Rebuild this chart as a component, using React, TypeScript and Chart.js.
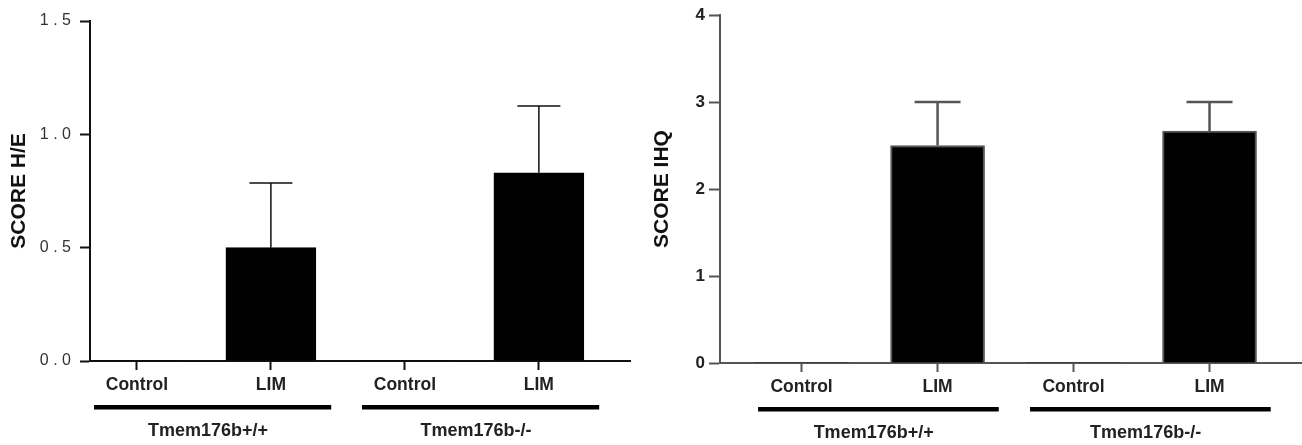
import React, { useEffect, useRef } from "react";
import { Chart, registerables } from "chart.js";

Chart.register(...registerables);

// ---- data ----
const categories = ["Control", "LIM", "Control", "LIM"];
const groupLabels = ["Tmem176b+/+", "Tmem176b-/-"];
const groupMembers = [
  [0, 1],
  [2, 3],
];
const heValues = [0, 0.5, 0, 0.83];
const heErrors = [0, 0.285, 0, 0.295];
const ihqValues = [0, 2.5, 0, 2.667];
const ihqErrors = [0, 0.5, 0, 0.333];
const heTickLabels = ["0.0", "0.5", "1.0", "1.5"];
const ihqTickLabels = ["0", "1", "2", "3", "4"];

const FONT = "'Liberation Sans', Arial, sans-serif";

type PanelCfg = {
  title: string;
  values: number[];
  errors: number[];
  tickLabels: string[];
  spaced: boolean;
  yMax: number;
  yStep: number;
  width: number;
  xMin: number;
  xMax: number;
  padTop: number;
  padRight: number;
  yWidth: number;
  xHeight: number;
  titlePad: number;
  yTickLen: number;
  yTickPad: number;
  yTickFont: any;
  yTickColor: string;
  axisColor: string;
  barWidth: number;
  barBorder: string;
  barBorderWidth: number;
  errColor: string;
  errWidth: number;
  cap: number;
};

function makeAnnot(cfg: PanelCfg) {
  return {
    id: "annot",
    afterDatasetsDraw(chart: any) {
      const ctx = chart.ctx;
      const xs = chart.scales.x;
      const ys = chart.scales.y;
      cfg.values.forEach((v, i) => {
        const e = cfg.errors[i];
        if (!e) return;
        const x = xs.getPixelForValue(i);
        const y0 = ys.getPixelForValue(v);
        const y1 = ys.getPixelForValue(v + e);
        ctx.save();
        ctx.strokeStyle = cfg.errColor;
        ctx.lineWidth = cfg.errWidth;
        ctx.beginPath();
        ctx.moveTo(x, y0);
        ctx.lineTo(x, y1);
        ctx.moveTo(x - cfg.cap / 2, y1);
        ctx.lineTo(x + cfg.cap / 2, y1);
        ctx.stroke();
        ctx.restore();
      });
    },
    afterDraw(chart: any) {
      const ctx = chart.ctx;
      const xs = chart.scales.x;
      const bottom = chart.chartArea.bottom;
      groupMembers.forEach((m, gi) => {
        const a = xs.getPixelForValue(m[0] - 0.32);
        const b = xs.getPixelForValue(m[m.length - 1] + 0.45);
        ctx.save();
        ctx.fillStyle = "#000";
        ctx.fillRect(a, bottom + 44, b - a, 4.5);
        ctx.font = `bold 18px ${FONT}`;
        ctx.fillStyle = "#222";
        ctx.textAlign = "center";
        ctx.textBaseline = "middle";
        const c = xs.getPixelForValue((m[0] + m[m.length - 1]) / 2 + 0.03);
        ctx.fillText(groupLabels[gi], c, bottom + 70);
        ctx.restore();
      });
    },
  };
}

function Panel({ cfg }: { cfg: PanelCfg }) {
  const ref = useRef<HTMLCanvasElement | null>(null);
  useEffect(() => {
    if (!ref.current) return;
    const chart = new Chart(ref.current, {
      type: "bar",
      data: {
        datasets: [
          {
            data: cfg.values.map((v, i) => ({ x: i, y: v })) as any,
            backgroundColor: "#000",
            borderColor: cfg.barBorder,
            borderWidth: cfg.values.map((v) => (v ? cfg.barBorderWidth : 0)),
            barThickness: cfg.barWidth,
          },
        ],
      },
      options: {
        animation: false,
        responsive: false,
        devicePixelRatio: 1,
        layout: {
          padding: { top: cfg.padTop, right: cfg.padRight, left: 0, bottom: 0 },
        },
        plugins: {
          legend: { display: false },
          tooltip: { enabled: false },
          title: { display: false },
        },
        scales: {
          x: {
            type: "linear",
            offset: false,
            min: cfg.xMin,
            max: cfg.xMax,
            afterBuildTicks: (scale: any) => {
              scale.ticks = categories.map((_, i) => ({ value: i }));
            },
            afterFit: (scale: any) => {
              scale.height = cfg.xHeight;
            },
            ticks: {
              callback: (v: any) => categories[v as number] ?? "",
              font: { family: FONT, size: 17.5, weight: "bold" },
              color: "#222",
              padding: 5,
              maxRotation: 0,
              autoSkip: false,
            },
            grid: {
              display: true,
              offset: false,
              drawOnChartArea: false,
              drawTicks: true,
              tickLength: 9,
              tickColor: cfg.axisColor,
              tickWidth: 2,
            },
            border: { display: true, color: cfg.axisColor, width: 2 },
          },
          y: {
            min: 0,
            max: cfg.yMax,
            afterFit: (scale: any) => {
              scale.width = cfg.yWidth;
            },
            ticks: {
              stepSize: cfg.yStep,
              callback: (_v: any, i: number) => {
                const s = cfg.tickLabels[i] ?? "";
                return cfg.spaced ? s.split("").join(" ") : s;
              },
              font: cfg.yTickFont,
              color: cfg.yTickColor,
              padding: cfg.yTickPad,
            },
            grid: {
              display: true,
              drawOnChartArea: false,
              drawTicks: true,
              tickLength: cfg.yTickLen,
              tickColor: cfg.axisColor,
              tickWidth: 2,
            },
            border: { display: true, color: cfg.axisColor, width: 2 },
            title: {
              display: true,
              text: cfg.title,
              font: { family: FONT, size: 21, weight: "bold" },
              color: "#111",
              padding: { top: cfg.titlePad, bottom: 0 },
            },
          },
        },
      } as any,
      plugins: [makeAnnot(cfg) as any],
    });
    return () => chart.destroy();
  }, [cfg]);
  return <canvas ref={ref} width={cfg.width} height={445} style={{ display: "block", width: cfg.width, height: 445 }} />;
}

const leftCfg: PanelCfg = {
  title: "SCORE H/E",
  values: heValues,
  errors: heErrors,
  tickLabels: heTickLabels,
  spaced: true,
  yMax: 1.5,
  yStep: 0.5,
  width: 650,
  xMin: -0.35,
  xMax: 3.68,
  padTop: 21,
  padRight: 20,
  yWidth: 90,
  xHeight: 84,
  titlePad: 7,
  yTickLen: 10,
  yTickPad: 9,
  yTickFont: { family: FONT, size: 16, weight: "normal" },
  yTickColor: "#333",
  axisColor: "#111",
  barWidth: 90,
  barBorder: "#000",
  barBorderWidth: 1,
  errColor: "#111",
  errWidth: 1.5,
  cap: 43,
};

const rightCfg: PanelCfg = {
  title: "SCORE IHQ",
  values: ihqValues,
  errors: ihqErrors,
  tickLabels: ihqTickLabels,
  spaced: false,
  yMax: 4,
  yStep: 1,
  width: 652,
  xMin: -0.6,
  xMax: 3.68,
  padTop: 15,
  padRight: 0,
  yWidth: 70,
  xHeight: 82,
  titlePad: 0,
  yTickLen: 11,
  yTickPad: 4,
  yTickFont: { family: FONT, size: 17, weight: "bold" },
  yTickColor: "#222",
  axisColor: "#555",
  barWidth: 94,
  barBorder: "#555",
  barBorderWidth: 2,
  errColor: "#555",
  errWidth: 2.5,
  cap: 46,
};

export default function App() {
  return (
    <div
      style={{
        position: "fixed",
        left: 0,
        top: 0,
        width: 1302,
        height: 445,
        background: "#fff",
        display: "flex",
      }}
    >
      <Panel cfg={leftCfg} />
      <Panel cfg={rightCfg} />
    </div>
  );
}
